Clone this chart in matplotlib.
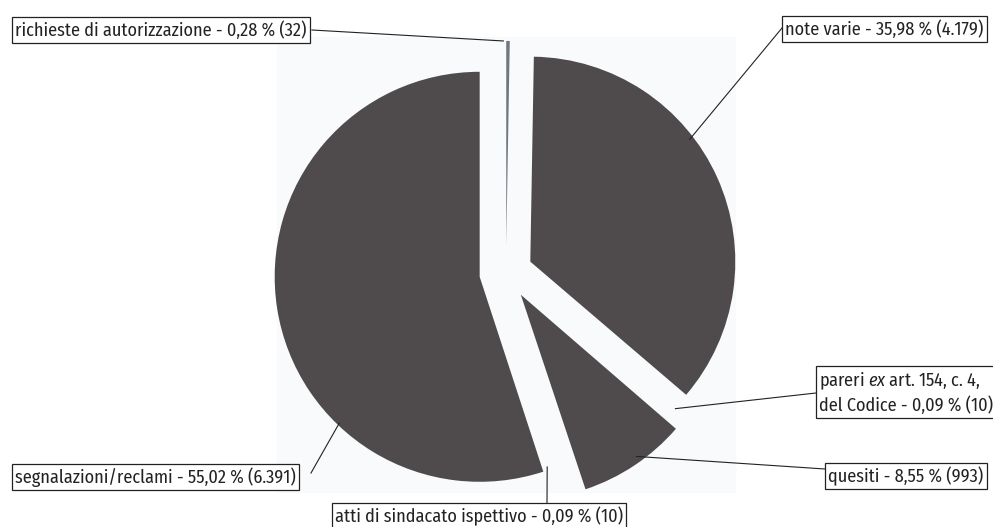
import numpy as np
import matplotlib
matplotlib.use("Agg")
import matplotlib.pyplot as plt
from matplotlib.patches import Rectangle

# === DATI ===
categorie = [
    "richieste di autorizzazione",
    "note varie",
    "pareri $\\mathit{ex}$ art. 154, c. 4,\ndel Codice",
    "quesiti",
    "atti di sindacato ispettivo",
    "segnalazioni/reclami",
]
conteggi = [32, 4179, 10, 993, 10, 6391]

COLORI = ["#6f7880", "#4f4b4c", "#f9fafc", "#4f4b4c", "#f9fafc", "#4f4b4c"]

# layout in pixel (figura 993x527)
W, H = 993, 527
CX, CY, R = 506, 272.6, 205.0
# angolo (gradi) e frazione di raggio del punto di aggancio sul settore
AGGANCI = [(90.8, 1.0), (37.5, 0.98), (-38.5, 0.93), (-54.4, 0.97), (-79.0, 0.84), (226.2, 0.99)]
# posizione testo (sinistra, centro verticale) e punto dove arriva la linea sul riquadro
TESTI = [(15, 30), (785, 29), (819, 393), (828, 476), (335, 516), (15, 477)]
LINEE = [(312, 30), (782, 28), (816, 393), (825, 469), (547, 503), (311, 473)]

FONT = "Fira Sans Condensed"
plt.rcParams["font.family"] = [FONT, "DejaVu Sans"]
plt.rcParams["mathtext.fontset"] = "custom"
plt.rcParams["mathtext.rm"] = FONT
plt.rcParams["mathtext.it"] = FONT + ":italic"


def px(x, y):
    return (x - CX) / R, (CY - y) / R


def it_num(v, dec):
    s = f"{v:,.{dec}f}"
    return s.replace(",", "#").replace(".", ",").replace("#", ".")


totale = sum(conteggi)
etichette = []
for nome, n in zip(categorie, conteggi):
    perc = n / totale * 100
    etichette.append(f"{nome} - {it_num(perc, 2)} % ({it_num(n, 0)})")

fig = plt.figure(figsize=(W / 100, H / 100), dpi=100)
ax = fig.add_axes([0, 0, 1, 1])

# sfondo area grafico
x0, y0 = px(277, 492)
x1, y1 = px(735, 37)
ax.add_patch(Rectangle((x0, y0), x1 - x0, y1 - y0, color="#f9fafc", zorder=0))

wedges, _ = ax.pie(conteggi, explode=[0.13] * len(conteggi), startangle=90,
                   counterclock=False, colors=COLORI, radius=1, center=(0, 0),
                   wedgeprops=dict(linewidth=0))

for w, lab, (ang, f), (tx, ty), (lx, ly) in zip(wedges, etichette, AGGANCI, TESTI, LINEE):
    cx, cy = w.center
    a = np.deg2rad(ang)
    ax_, ay_ = cx + f * w.r * np.cos(a), cy + f * w.r * np.sin(a)
    bx, by = px(lx, ly)
    ax.plot([ax_, bx], [ay_, by], color="#222222", lw=0.8, zorder=3)
    txx, tyy = px(tx, ty)
    ax.text(txx, tyy, lab, ha="left", va="center", fontsize=13.1, color="#222222",
            linespacing=1.25, zorder=4,
            bbox=dict(boxstyle="square,pad=0.18", fc="white", ec="#222222", lw=0.9))

ax.set_xlim(-CX / R, (W - CX) / R)
ax.set_ylim((CY - H) / R, CY / R)
ax.set_aspect("auto")
ax.axis("off")

fig.savefig("out.png", dpi=100)
